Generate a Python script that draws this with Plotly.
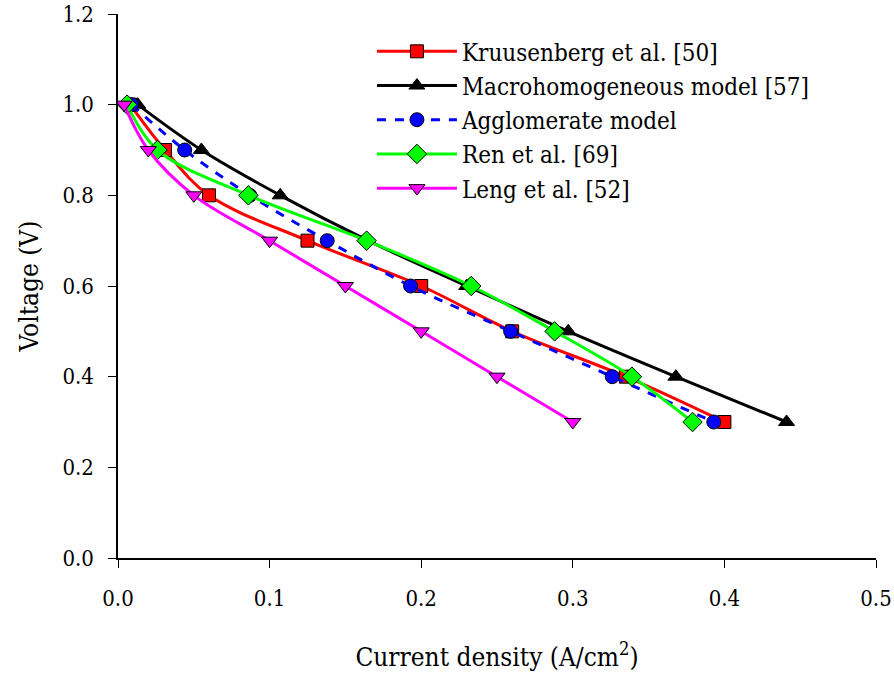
import plotly.graph_objects as go

voltage = [1.0, 0.9, 0.8, 0.7, 0.6, 0.5, 0.4, 0.3]
kruusenberg_x = [0.008, 0.031, 0.06, 0.125, 0.2, 0.26, 0.335, 0.4]
macro_x = [0.013, 0.055, 0.107, 0.165, 0.23, 0.297, 0.368, 0.441]
agglom_x = [0.009, 0.044, 0.087, 0.138, 0.193, 0.259, 0.326, 0.393]
ren_x = [0.006, 0.026, 0.086, 0.164, 0.233, 0.288, 0.339, 0.379]
leng_x = [0.004, 0.02, 0.05, 0.1, 0.15, 0.2, 0.25, 0.3]

series = [
    ("Kruusenberg et al. [50]", kruusenberg_x, "#ff0000", "square", "solid", 13),
    ("Macrohomogeneous model [57]", macro_x, "#000000", "triangle-up", "solid", 14),
    ("Agglomerate model", agglom_x, "#0000ff", "circle", "dash", 14),
    ("Ren et al. [69]", ren_x, "#00ff00", "diamond", "solid", 15),
    ("Leng et al. [52]", leng_x, "#ff00ff", "triangle-down", "solid", 14),
]

fig = go.Figure()
for i, (name, xs, color, sym, dash, msize) in enumerate(series):
    fig.add_trace(go.Scatter(
        x=xs, y=voltage, name=name, mode="lines+markers", legendgroup=f"g{i}",
        line=dict(color=color, width=3, dash=dash, shape="spline", smoothing=1.0),
        marker=dict(symbol=sym, size=msize, color=color,
                    line=dict(color="#000000", width=1)),
    ))

serif = "DejaVu Serif Condensed, DejaVu Serif"
fig.update_layout(
    width=894, height=678,
    margin=dict(l=118, r=18, t=14, b=120),
    paper_bgcolor="white", plot_bgcolor="white",
    font=dict(family=serif, size=21, color="black"),
    showlegend=True,
    legend=dict(x=0.335, y=0.972, xanchor="left", yanchor="top",
                bgcolor="rgba(0,0,0,0)", font=dict(family=serif, size=24, color="black"),
                itemwidth=80, tracegroupgap=0),
    xaxis=dict(range=[0, 0.5], tickvals=[0, 0.1, 0.2, 0.3, 0.4, 0.5],
               ticktext=["0.0", "0.1", "0.2", "0.3", "0.4", "0.5"], automargin=False,
               showgrid=False, zeroline=False, showline=True, linecolor="black", linewidth=1.5,
               ticks="outside", ticklen=8, tickcolor="black", ticklabelstandoff=12,
               tickfont=dict(family=serif, size=22, color="black"),
               title=dict(text="Current density (A/cm<sup>2</sup>)", font=dict(family=serif, size=26, color="black"), standoff=38)),
    yaxis=dict(range=[0, 1.2], tickvals=[0, 0.2, 0.4, 0.6, 0.8, 1.0, 1.2],
               ticktext=["0.0", "0.2", "0.4", "0.6", "0.8", "1.0", "1.2"], automargin=False,
               showgrid=False, zeroline=False, showline=True, linecolor="black", linewidth=1.5,
               ticks="outside", ticklen=8, tickcolor="black", ticklabelstandoff=10,
               tickfont=dict(family=serif, size=22, color="black"),
               title=dict(text="Voltage (V)", font=dict(family=serif, size=26, color="black"), standoff=16)),
)
fig.write_html("out.html")
